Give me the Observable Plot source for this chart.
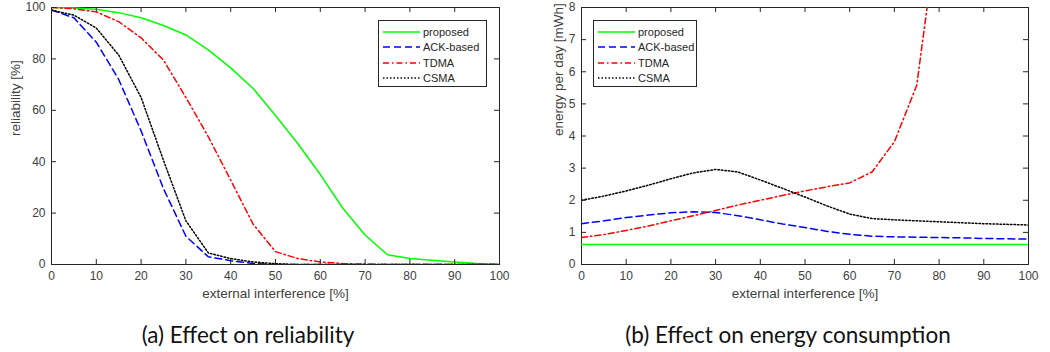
<!DOCTYPE html>
<html><head><meta charset="utf-8">
<script src="https://cdn.jsdelivr.net/npm/d3@7"></script>
<script src="https://cdn.jsdelivr.net/npm/@observablehq/plot@0.6"></script>
<style>
body{margin:0;background:#fff;width:1050px;height:352px;overflow:hidden;position:relative;font-family:"Liberation Sans",Arial,sans-serif}
.panel{position:absolute;top:0;width:525px;height:310px}
.legend{position:absolute;background:#fff;border:1px solid #262626;box-sizing:border-box;padding:3px 0 0 4px;font-size:11px;color:#262626;white-space:nowrap}
.legend .row{display:flex;align-items:center;height:15.5px}
.legend svg{margin-right:3px;flex:none}
.caption{position:absolute;font-family:Lato,"Open Sans",sans-serif;font-size:22.5px;line-height:24px;top:323px;transform:translateX(-50%);white-space:nowrap;color:#111}
</style></head><body>
<div id="a" class="panel" style="left:0"></div>
<div id="b" class="panel" style="left:525px"></div>
<script>
// ---- data ----
const xs = [0,5,10,15,20,25,30,35,40,45,50,55,60,65,70,75,80,85,90,95,100];
const seriesNames = ["proposed","ACK-based","TDMA","CSMA"];
const seriesColors = ["#00ff00","#0000ff","#ff0000","#000000"];
const seriesDash = [null,"7,4","6,3,1.5,3","1.5,2"];

const relProposed = [100,99.8,99.3,98,96,93,89.3,83.5,76.5,68.5,58,47,35,22,11.5,3.8,2.3,1.7,1,0.4,0];
const relAck      = [99,96,86.5,72,52,29.5,11,3,1.5,0.4,0,0,0,0,0,0,0,0,0,0,0];
const relTdma     = [100,99.5,98.3,94.5,88.2,79.5,65,49.7,32.8,15.7,5,2.3,1,0.4,0.1,0,0,0,0,0,0];
const relCsma     = [99,97,92,81.5,65,40.5,17,4.5,2.3,1,0.3,0,0,0,0,0,0,0,0,0,0];

const enProposed = [0.62,0.62,0.62,0.62,0.62,0.62,0.62,0.62,0.62,0.62,0.62,0.62,0.62,0.62,0.62,0.62,0.62,0.62,0.62,0.62,0.62];
const enAck      = [1.27,1.36,1.46,1.54,1.61,1.64,1.62,1.52,1.39,1.26,1.15,1.03,0.94,0.88,0.86,0.85,0.84,0.83,0.81,0.8,0.79];
const enTdma     = [0.84,0.93,1.06,1.2,1.36,1.52,1.68,1.85,2.0,2.15,2.29,2.42,2.54,2.88,3.82,5.58,10.8];
const enCsma     = [2.0,2.13,2.29,2.47,2.67,2.85,2.96,2.88,2.63,2.37,2.1,1.82,1.57,1.43,1.39,1.36,1.33,1.3,1.27,1.25,1.23];

const xTicks = [0,10,20,30,40,50,60,70,80,90,100];
const yTicksA = [0,20,40,60,80,100];
const yTicksB = [0,1,2,3,4,5,6,7,8];
const xLabel = "external interference [%]";
const yLabelA = "reliability [%]";
const yLabelB = "energy per day [mWh]";
const captionA = "(a) Effect on reliability";
const captionB = "(b) Effect on energy consumption";

function table(vals){ return vals.map((v,i)=>({x: xs[i], y: v})); }

const W = 525, H = 310, MT = 7, MB = 46, TICK = 5;

function chart(series, yDomain, yTicks, yLabel, mL, mR, yLabelDx){
  const axisColor = "#262626";
  const innerH = H - MT - MB, innerW = W - mL - mR;
  const marks = [
    Plot.frame({stroke: axisColor, strokeWidth: 1}),
  ];
  series.forEach((vals,i)=>{
    marks.push(Plot.line(table(vals), {x:"x", y:"y", stroke: seriesColors[i], strokeWidth: 1.5,
      strokeDasharray: seriesDash[i] || undefined, clip: true}));
  });
  marks.push(
    Plot.tickX(xTicks, {x: d=>d, stroke: axisColor, insetTop: innerH - TICK}),
    Plot.tickX(xTicks, {x: d=>d, stroke: axisColor, insetBottom: innerH - TICK}),
    Plot.tickY(yTicks, {y: d=>d, stroke: axisColor, insetRight: innerW - TICK}),
    Plot.tickY(yTicks, {y: d=>d, stroke: axisColor, insetLeft: innerW - TICK}),
    Plot.axisX(xTicks, {anchor:"bottom", tickSize:0, tickPadding:7, label:null, fill:"#404040", fontSize:12}),
    Plot.axisY(yTicks, {anchor:"left", tickSize:0, tickPadding:6, label:null, fill:"#404040", fontSize:12}),
    Plot.text([xLabel], {frameAnchor:"bottom", dy: 33, fontSize: 13.5, fill:"#404040"}),
    Plot.text([yLabel], {frameAnchor:"left", rotate:-90, dx: yLabelDx, fontSize: 13.5, fill:"#404040"})
  );
  return Plot.plot({
    width:W, height:H, marginLeft:mL, marginRight:mR, marginTop:MT, marginBottom:MB,
    x:{domain:[0,100]}, y:{domain:yDomain},
    style:{fontFamily:'"Liberation Sans", Arial, sans-serif', background:"white", overflow:"visible"},
    marks
  });
}

document.getElementById("a").append(chart([relProposed,relAck,relTdma,relCsma],[0,100],yTicksA,yLabelA,51,26,-36));
document.getElementById("b").append(chart([enProposed,enAck,enTdma,enCsma],[0,8],yTicksB,yLabelB,56,22,-23));

function legend(left, top, width){
  const d = document.createElement("div");
  d.className = "legend";
  d.style.left = left+"px"; d.style.top = top+"px"; d.style.width = width+"px"; d.style.height = "67px";
  seriesNames.forEach((n,i)=>{
    const r = document.createElement("div"); r.className = "row";
    r.innerHTML = `<svg width="37" height="6"><line x1="0" y1="3" x2="37" y2="3" stroke="${seriesColors[i]}" stroke-width="1.5" ${seriesDash[i]?`stroke-dasharray="${seriesDash[i]}"`:""}/></svg><span>${n}</span>`;
    d.append(r);
  });
  document.body.append(d);
}
legend(378, 20, 109);
legend(593, 20, 104);

function caption(text, cx){
  const c = document.createElement("div"); c.className = "caption";
  c.style.left = cx+"px"; c.textContent = text; document.body.append(c);
}
caption(captionA, 248);
caption(captionB, 788);
</script>
</body></html>
